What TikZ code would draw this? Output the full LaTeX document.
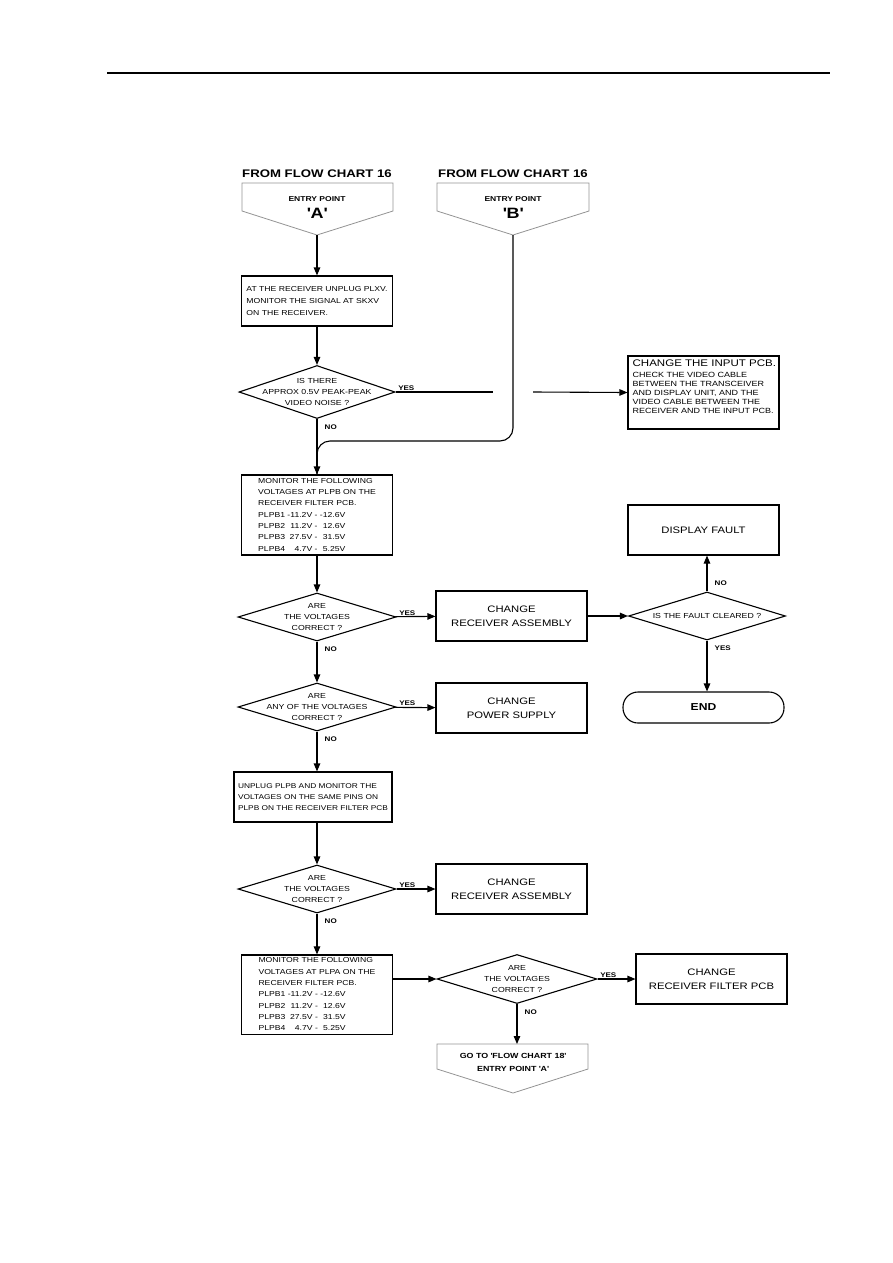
\documentclass[tikz,border=0pt]{standalone}
\usepackage{fontspec}
\setmainfont{Liberation Sans}[FakeStretch=1.2]
\usetikzlibrary{arrows.meta,shapes.geometric}

\newcommand{\sq}{\textquotesingle}

\begin{document}
\begin{tikzpicture}[
    x=1pt, y=-1pt,
    >={Triangle[length=8pt,width=6.5pt]},
    action/.style={
      draw,
      line width=1.1pt,
      inner sep=0pt,
      minimum width=151pt,
      minimum height=50pt,
      align=left,
      font=\fontsize{7.2}{12.3}\selectfont
    },
    bigact/.style={
      action,
      align=center,
      font=\fontsize{9.4}{14}\selectfont
    },
    decision/.style={
      draw,
      diamond,
      line width=1.1pt,
      inner sep=0pt,
      minimum width=158pt,
      minimum height=48pt
    },
    qtext/.style={align=center, inner sep=0pt, font=\fontsize{7.3}{11}\selectfont},
    answer/.style={inner sep=1.5pt, font=\fontsize{6.7}{8}\selectfont\bfseries},
    yeslab/.style={answer, anchor=south west},
    nolab/.style={answer, anchor=north west},
    entry/.style={draw=gray!85, line width=0.8pt},
    flow/.style={->, line width=1.1pt}
  ]
    \useasboundingbox (0,0) rectangle (893,1263);
    \draw[line width=1.1pt] (107,73) -- (830,73);

    % entry points from chart 16
    \node[font=\fontsize{11}{13}\selectfont\bfseries] (fromA) at (317,174) {FROM FLOW CHART 16};
    \node[font=\fontsize{11}{13}\selectfont\bfseries] (fromB) at (513,174) {FROM FLOW CHART 16};
    \draw[entry] (242,183) -- (393,183) -- (393,211) -- (317,235) -- (242,211) -- cycle;
    \draw[entry] (437,183) -- (589,183) -- (589,211) -- (513,235) -- (437,211) -- cycle;
    \node[font=\fontsize{7.1}{8}\selectfont\bfseries] (entA) at (317,199.5) {ENTRY POINT};
    \node[font=\fontsize{15}{15}\selectfont\bfseries] (letA) at (317,213) {\sq A\sq};
    \node[font=\fontsize{7.1}{8}\selectfont\bfseries] (entB) at (513,199.5) {ENTRY POINT};
    \node[font=\fontsize{15}{15}\selectfont\bfseries] (letB) at (513,213) {\sq B\sq};
    \coordinate (tipA) at (317,235);
    \coordinate (tipB) at (513,235);

    \node[action] (recv) at (317,301) {AT THE RECEIVER UNPLUG PLXV.\\MONITOR THE SIGNAL AT SKXV\\ON THE RECEIVER.};
    \node[decision, minimum width=156pt, minimum height=53pt,
      label={[qtext]center:{IS THERE\\APPROX 0.5V PEAK-PEAK\\VIDEO NOISE ?}}] (noise) at (317,392) {};
    \node[action, minimum height=73pt] (inputpcb) at (703.5,392.5) {};
    \node[anchor=north west, align=left, inner sep=0pt, font=\fontsize{7.5}{9.2}\selectfont] (inputtxt)
      at ([shift={(5,4.5)}]inputpcb.north west)
      {{\fontsize{9.6}{11}\selectfont CHANGE THE INPUT PCB.}\\[1pt]CHECK THE VIDEO CABLE\\BETWEEN THE TRANSCEIVER\\AND DISPLAY UNIT, AND THE\\VIDEO CABLE BETWEEN THE\\RECEIVER AND THE INPUT PCB.};
    \coordinate (gapL) at (493,392);
    \coordinate (gapR) at (533,392);
    \coordinate (merge) at (317,441);

    \node[action, minimum height=80pt, font=\fontsize{7.2}{11.3}\selectfont] (plpb) at (317,515) {%
      \begin{tabular}{@{}l@{}}
        MONITOR THE FOLLOWING\\
        VOLTAGES AT PLPB ON THE\\
        RECEIVER FILTER PCB.\\
        \begin{tabular}[t]{@{}l@{\ }r@{\ -\ }r@{}}
          PLPB1 & -11.2V & -12.6V\\
          PLPB2 & 11.2V & 12.6V\\
          PLPB3 & 27.5V & 31.5V\\
          PLPB4 & 4.7V & 5.25V
        \end{tabular}
      \end{tabular}};

    \node[decision, label={[qtext]center:{ARE\\THE VOLTAGES\\CORRECT ?}}] (volt1) at (317,617) {};
    \node[bigact] (chg1) at (511.5,616) {CHANGE\\RECEIVER ASSEMBLY};
    \node[decision, minimum width=157pt, label={[qtext]center:{IS THE FAULT CLEARED ?}}] (fault) at (707,616) {};
    \node[bigact] (display) at (703.5,530) {DISPLAY FAULT};
    \node[draw, line width=1.1pt, rounded corners=15pt, minimum width=161pt, minimum height=31pt,
      font=\fontsize{10.1}{12}\selectfont\bfseries] (finish) at (703.5,707.5) {END};

    \node[decision, label={[qtext]center:{ARE\\ANY OF THE VOLTAGES\\CORRECT ?}}] (anyv) at (317,707) {};
    \node[bigact] (psu) at (511.5,708) {CHANGE\\POWER SUPPLY};

    \node[action, minimum width=158pt, font=\fontsize{6.95}{11.3}\selectfont] (unplug) at (313,797)
      {UNPLUG PLPB AND MONITOR THE\\VOLTAGES ON THE SAME PINS ON\\PLPB ON THE RECEIVER FILTER PCB};
    \node[decision, label={[qtext]center:{ARE\\THE VOLTAGES\\CORRECT ?}}] (volt3) at (317,889) {};
    \node[bigact] (chg2) at (511.5,889) {CHANGE\\RECEIVER ASSEMBLY};

    \node[action, minimum height=79pt, font=\fontsize{7.2}{11.3}\selectfont] (plpa) at (317,994.5) {%
      \begin{tabular}{@{}l@{}}
        MONITOR THE FOLLOWING\\
        VOLTAGES AT PLPA ON THE\\
        RECEIVER FILTER PCB.\\
        \begin{tabular}[t]{@{}l@{\ }r@{\ -\ }r@{}}
          PLPB1 & -11.2V & -12.6V\\
          PLPB2 & 11.2V & 12.6V\\
          PLPB3 & 27.5V & 31.5V\\
          PLPB4 & 4.7V & 5.25V
        \end{tabular}
      \end{tabular}};
    \node[decision, minimum width=160pt, minimum height=49pt,
      label={[qtext]center:{ARE\\THE VOLTAGES\\CORRECT ?}}] (volt4) at (517,979) {};
    \node[bigact] (filt) at (711.5,979) {CHANGE\\RECEIVER FILTER PCB};

    % exit to chart 18
    \draw[entry] (437,1044) -- (588,1044) -- (588,1069) -- (513,1093) -- (437,1069) -- cycle;
    \coordinate (gotoTop) at (513,1044);
    \node[align=center, font=\fontsize{7.4}{13}\selectfont\bfseries] (goto) at (513,1062.5)
      {GO TO \sq FLOW CHART 18\sq\\ENTRY POINT \sq A\sq};

    \draw[flow] (tipA) -- (tipA |- recv.north);
    \draw[flow] (recv) -- (noise);
    \draw[line width=1.1pt] (noise.east) -- (gapL);
    \draw[flow] (gapR) -- (inputpcb.west);
    \draw[line width=1.1pt, rounded corners=13pt] (tipB) |- (merge) -- (plpb.north);
    \draw[flow] (noise) -- (plpb);
    \draw[flow] (plpb) -- (volt1);
    \draw[flow] (volt1) -- (chg1);
    \draw[flow] (chg1) -- (fault);
    \draw[flow] (fault.north) -- (fault.north |- display.south);
    \draw[flow] (fault.south) -- (fault.south |- finish.north);
    \draw[flow] (volt1) -- (anyv);
    \draw[flow] (anyv) -- (psu);
    \draw[flow] (anyv.south) -- (anyv.south |- unplug.north);
    \draw[flow] (unplug.south -| volt3.north) -- (volt3);
    \draw[flow] (volt3) -- (chg2);
    \draw[flow] (volt3) -- (plpa);
    \draw[flow] (volt4.west -| plpa.east) -- (volt4.west);
    \draw[flow] (volt4) -- (filt);
    \draw[flow] (volt4.south) -- (volt4.south |- gotoTop);

    \node[yeslab] (yes1) at ([shift={(1,0)}]noise.east) {YES};
    \node[nolab] (no1) at ([shift={(6,4)}]noise.south) {NO};
    \node[yeslab] (yes2) at ([shift={(1,0)}]volt1.east) {YES};
    \node[nolab] (no2) at ([shift={(6,4)}]volt1.south) {NO};
    \node[answer, anchor=south west] (no3) at ([shift={(6,-4)}]fault.north) {NO};
    \node[nolab] (yes3) at ([shift={(6,4)}]fault.south) {YES};
    \node[yeslab] (yes4) at ([shift={(1,0)}]anyv.east) {YES};
    \node[nolab] (no4) at ([shift={(6,4)}]anyv.south) {NO};
    \node[yeslab] (yes5) at ([shift={(1,0)}]volt3.east) {YES};
    \node[nolab] (no5) at ([shift={(6,4)}]volt3.south) {NO};
    \node[yeslab] (yes6) at ([shift={(1,0)}]volt4.east) {YES};
    \node[nolab] (no6) at ([shift={(6,4)}]volt4.south) {NO};
  \end{tikzpicture}
\end{document}
